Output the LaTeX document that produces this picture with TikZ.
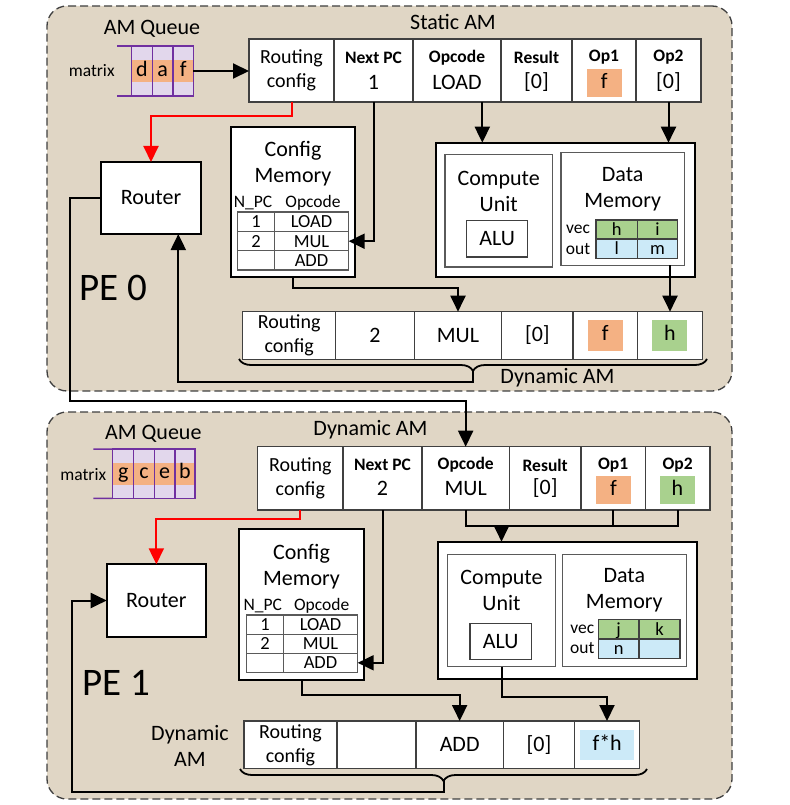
\documentclass[tikz,border=0pt]{standalone}
\usepackage{fontspec}
\setmainfont{Carlito}
\usetikzlibrary{arrows.meta,decorations.pathreplacing}
\definecolor{beige}{RGB}{224,214,197}
\definecolor{qorange}{RGB}{244,177,131}
\definecolor{qgreen}{RGB}{169,209,142}
\definecolor{qblue}{RGB}{204,234,248}
\definecolor{qlav}{RGB}{226,215,236}
\definecolor{qpurple}{RGB}{112,48,160}
\definecolor{edge}{RGB}{64,64,64}
\definecolor{gedge}{RGB}{90,90,90}
\newcommand\fntA{\fontsize{22}{26}\selectfont}
\newcommand\fntB{\fontsize{20}{24}\selectfont}
\newcommand\fntC{\fontsize{18.5}{19}\selectfont}
\newcommand\fntD{\bfseries\fontsize{17.5}{20}\selectfont}
\newcommand\fntE{\fontsize{17.5}{20}\selectfont}
\newcommand\fntP{\fontsize{39}{44}\selectfont}
\newcommand\bx[7]{\node[#1,minimum width={#4-#2},minimum height={#5-#3}] (#6) at (#2,#3) {#7};}
\begin{document}
\begin{tikzpicture}[x=1pt,y=-1pt,
  pe/.style={draw=edge,dash pattern=on 8pt off 4pt,line width=1.3pt,fill=beige,rounded corners=20pt,inner sep=0pt,outer sep=0pt,anchor=north west},
  cell/.style={draw=edge,line width=1.3pt,fill=white,inner sep=0pt,outer sep=0pt,anchor=north west,align=center,font=\fntA},
  blk/.style={draw=black,line width=1.8pt,fill=white,inner sep=0pt,outer sep=0pt,anchor=north west},
  gbox/.style={draw=gedge,line width=1.3pt,fill=white,inner sep=0pt,outer sep=0pt,anchor=north west},
  tcell/.style={draw=gedge,line width=1.2pt,fill=white,inner sep=0pt,outer sep=0pt,anchor=north west,font=\fntC,text height=12pt,text depth=0pt},
  dcell/.style={draw=edge,line width=1.2pt,inner sep=0pt,outer sep=0pt,anchor=north west,font=\fntC,text height=12pt,text depth=0pt},
  col/.style={inner sep=0pt,outer sep=0pt,anchor=north west,font=\fntA},
  qcell/.style={draw=qpurple,line width=1.5pt,inner sep=0pt,outer sep=0pt,anchor=north west,font=\fntA},
  txt/.style={inner sep=0pt,outer sep=0pt,align=center},
  arr/.style={line width=2pt,-{Triangle[length=16pt,width=15pt]}},
  ln/.style={line width=2pt},
  rarr/.style={arr,red},
  brc/.style={line width=1.8pt,decorate,decoration={brace,mirror,amplitude=12pt}},
]
\useasboundingbox (0,0) rectangle (789,805);

% ================= PE 0 =================
\bx{pe}{47}{6}{732}{391}{pe0}{}
\node[txt,font=\fntA] (aq0) at (152,29) {AM Queue};
\node[txt,font=\fntE] (mx0) at (91.7,71) {matrix};
\fill[qlav] (131.7,46) rectangle (193.3,96);
\fill[qorange] (131.7,60) rectangle (193.3,82);
\bx{qcell}{131.7}{46}{152.3}{96}{q0a}{\strut d}
\bx{qcell}{152.3}{46}{173}{96}{q0b}{\strut a}
\bx{qcell}{173}{46}{193.3}{96}{q0c}{\strut f}
\draw[qpurple,line width=1.5pt] (117,46) -- (q0a.north west) (117,96) -- (q0a.south west);

\node[txt,font=\fntA] (sam0) at (453,21.7) {Static AM};
\bx{cell,font=\fntB}{249}{39}{334}{102}{s0rc}{Routing\\config}
\bx{cell}{334}{39}{413}{102}{s0pc}{}
\bx{cell}{413}{39}{501}{102}{s0op}{}
\bx{cell}{501}{39}{572}{102}{s0res}{}
\bx{cell}{572}{39}{636}{102}{s0o1}{}
\bx{cell}{636}{39}{701}{102}{s0o2}{}
\node[txt,font=\fntD] (h0a) at (373.5,57.5) {Next PC};
\node[txt,font=\fntD] (h0b) at (457,57.5) {Opcode};
\node[txt,font=\fntD] (h0c) at (536.5,57.5) {Result};
\node[txt,font=\fntD] (h0d) at (604,57.5) {Op1};
\node[txt,font=\fntD] (h0e) at (668.5,57.5) {Op2};
\node[txt,font=\fntA] (v0a) at (373.5,82) {1};
\node[txt,font=\fntA] (v0b) at (457,82) {LOAD};
\node[txt,font=\fntA] (v0c) at (536.5,82) {[0]};
\bx{col,fill=qorange}{586.7}{69}{621.7}{96.7}{v0d}{\strut f}
\node[txt,font=\fntA] (v0e) at (668.5,82) {[0]};

% router
\bx{blk,font=\fntA}{101}{162}{201}{234}{r0}{Router}

% config memory
\bx{blk}{231}{127}{355}{277}{cm0}{}
\node[txt,font=\fntA] (cm0t) at (293,163.5) {Config\\Memory};
\node[txt,font=\fntE] (np0) at (253,203) {N\_PC};
\node[txt,font=\fntE] (oc0) at (313,203) {Opcode};
\bx{tcell}{237.7}{212}{274.3}{231.7}{t0a1}{1}
\bx{tcell}{274.3}{212}{348.7}{231.7}{t0b1}{LOAD}
\bx{tcell}{237.7}{231.7}{274.3}{250.7}{t0a2}{2}
\bx{tcell}{274.3}{231.7}{348.7}{250.7}{t0b2}{MUL}
\bx{tcell}{237.7}{250.7}{274.3}{270}{t0a3}{}
\bx{tcell}{274.3}{250.7}{348.7}{270}{t0b3}{ADD}

% compute + data
\bx{blk}{435.7}{142.7}{694.7}{277}{cd0}{}
\bx{gbox}{445}{154.3}{552.3}{267}{cu0}{}
\node[txt,font=\fntA] (cu0t) at (498.7,191.7) {Compute\\Unit};
\bx{gbox,draw=edge,font=\fntA}{466.7}{220.7}{527.7}{257}{alu0}{ALU}
\bx{gbox}{561}{152.7}{684.3}{265.3}{dm0}{}
\node[txt,font=\fntA] (dm0t) at (622.7,189.7) {Data\\Memory};
\node[txt,font=\fntE] (vec0) at (578,229.5) {vec};
\node[txt,font=\fntE] (out0) at (578,248.7) {out};
\bx{dcell,fill=qgreen}{596}{220}{637.3}{239}{dv0a}{h}
\bx{dcell,fill=qgreen}{637.3}{220}{677.7}{239}{dv0b}{i}
\bx{dcell,fill=qblue}{596}{239}{637.3}{258.3}{do0a}{l}
\bx{dcell,fill=qblue}{637.3}{239}{677.7}{258.3}{do0b}{m}

% dynamic AM of PE0
\bx{cell,font=\fntB}{242.7}{311.7}{335.7}{359.3}{d0rc}{Routing\\config}
\bx{cell}{335.7}{311.7}{414.3}{359.3}{d0pc}{2}
\bx{cell}{414.3}{311.7}{501.7}{359.3}{d0op}{MUL}
\bx{cell}{501.7}{311.7}{573}{359.3}{d0res}{[0]}
\bx{cell}{573}{311.7}{637.7}{359.3}{d0o1}{}
\bx{cell}{637.7}{311.7}{702.3}{359.3}{d0o2}{}
\bx{col,fill=qorange}{587.7}{320}{622.7}{350.7}{d0f}{\strut f}
\bx{col,fill=qgreen}{652.3}{320}{687.3}{350.7}{d0h}{\strut h}
\draw[brc] (239,359) -- (707,359);
\coordinate (br0) at (473,371);
\node[txt,font=\fntA] (dyn0) at (557.5,378) {Dynamic AM};
\node[txt,font=\fntP] (pe0l) at (113.3,288.3) {PE 0};

% connectors PE0
\draw[arr] (q0c.east) -- (q0c.east -| s0rc.west);
\draw[rarr] (s0rc.south) -- ++(0,13.7) -| (r0.north);
\draw[arr] (s0pc.south) |- (t0b2.east);
\path (s0op.south) ++(25.3,0) coordinate (op0x);
\draw[arr] (op0x) -- (op0x |- cd0.north);
\draw[arr] (s0o2.south) -- (s0o2.south |- cd0.north);
\draw[arr] (dm0.south -| d0o2.north) -- (d0o2.north);
\draw[arr] (cm0.south) -- ++(0,11.3) -| (d0op.north);
\draw[arr] (br0) -- ++(0,10.7) -| ([xshift=27.3pt]r0.south);

% ================= PE 1 =================
\bx{pe}{47}{412}{732}{799}{pe1}{}
\node[txt,font=\fntA] (aq1) at (153.3,434.3) {AM Queue};
\node[txt,font=\fntE] (mx1) at (83.3,474.3) {matrix};
\fill[qlav] (112.7,449) rectangle (195,498.3);
\fill[qorange] (112.7,463) rectangle (195,485);
\bx{qcell}{112.7}{449}{133.7}{498.3}{q1a}{\strut g}
\bx{qcell}{133.7}{449}{154.3}{498.3}{q1b}{\strut c}
\bx{qcell}{154.3}{449}{175}{498.3}{q1c}{\strut e}
\bx{qcell}{175}{449}{195}{498.3}{q1d}{\strut b}
\draw[qpurple,line width=1.5pt] (93.3,449) -- (q1a.north west) (93.3,498.3) -- (q1a.south west);

\node[txt,font=\fntA] (dam1) at (370.5,430) {Dynamic AM};
\bx{cell,font=\fntB}{257.7}{446.7}{343}{510}{s1rc}{Routing\\config}
\bx{cell}{343}{446.7}{422}{510}{s1pc}{}
\bx{cell}{422}{446.7}{509.3}{510}{s1op}{}
\bx{cell}{509.3}{446.7}{581}{510}{s1res}{}
\bx{cell}{581}{446.7}{645.3}{510}{s1o1}{}
\bx{cell}{645.3}{446.7}{710}{510}{s1o2}{}
\node[txt,font=\fntD] (h1a) at (382.5,465) {Next PC};
\node[txt,font=\fntD] (h1b) at (465.7,465) {Opcode};
\node[txt,font=\fntD] (h1c) at (545.2,465) {Result};
\node[txt,font=\fntD] (h1d) at (613.2,465) {Op1};
\node[txt,font=\fntD] (h1e) at (677.7,465) {Op2};
\node[txt,font=\fntA] (v1a) at (382.5,488.3) {2};
\node[txt,font=\fntA] (v1b) at (465.7,488.3) {MUL};
\node[txt,font=\fntA] (v1c) at (545.2,488.3) {[0]};
\bx{col,fill=qorange}{595.7}{476}{631}{504.3}{v1d}{\strut f}
\bx{col,fill=qgreen}{660}{476}{695}{504.3}{v1e}{\strut h}

\bx{blk,font=\fntA}{106.7}{564.3}{206}{636.7}{r1}{Router}

\bx{blk}{239.3}{529.3}{363.7}{680.3}{cm1}{}
\node[txt,font=\fntA] (cm1t) at (301.5,566.2) {Config\\Memory};
\node[txt,font=\fntE] (np1) at (262.7,606) {N\_PC};
\node[txt,font=\fntE] (oc1) at (321.7,606) {Opcode};
\bx{tcell}{246.7}{615}{283.3}{634.3}{t1a1}{1}
\bx{tcell}{283.3}{615}{357.7}{634.3}{t1b1}{LOAD}
\bx{tcell}{246.7}{634.3}{283.3}{653.3}{t1a2}{2}
\bx{tcell}{283.3}{634.3}{357.7}{653.3}{t1b2}{MUL}
\bx{tcell}{246.7}{653.3}{283.3}{672.3}{t1a3}{}
\bx{tcell}{283.3}{653.3}{357.7}{672.3}{t1b3}{ADD}

\bx{blk}{437.7}{541.7}{697}{679.3}{cd1}{}
\bx{gbox}{447.7}{554.3}{555.3}{666.7}{cu1}{}
\node[txt,font=\fntA] (cu1t) at (501.5,590.8) {Compute\\Unit};
\bx{gbox,draw=edge,font=\fntA}{470}{623.7}{531.3}{659.3}{alu1}{ALU}
\bx{gbox}{562.3}{554.3}{686.3}{666.7}{dm1}{}
\node[txt,font=\fntA] (dm1t) at (624.3,590.5) {Data\\Memory};
\node[txt,font=\fntE] (vec1) at (582.3,629) {vec};
\node[txt,font=\fntE] (out1) at (582.3,648) {out};
\bx{dcell,fill=qgreen}{598.3}{619.3}{639}{639}{dv1a}{j}
\bx{dcell,fill=qgreen}{639}{619.3}{680}{639}{dv1b}{k}
\bx{dcell,fill=qblue}{598.3}{639}{639}{658.3}{do1a}{n}
\bx{dcell,fill=qblue}{639}{639}{680}{658.3}{do1b}{}

\bx{cell,font=\fntB}{244}{721}{337}{768.7}{e1rc}{Routing\\config}
\bx{cell}{337}{721}{416}{768.7}{e1pc}{}
\bx{cell}{416}{721}{503.3}{768.7}{e1op}{ADD}
\bx{cell}{503.3}{721}{574.7}{768.7}{e1res}{[0]}
\bx{cell}{574.7}{721}{639.3}{768.7}{e1o1}{}
\bx{col,fill=qblue}{580.3}{730}{634}{760}{e1fh}{\strut f*h}
\draw[brc] (240,769) -- (647,769);
\coordinate (br1) at (443.5,781);
\node[txt,font=\fntA] (dyn1) at (190,746.3) {Dynamic\\AM};
\node[txt,font=\fntP] (pe1l) at (116.7,683.3) {PE 1};

% connectors PE1
\draw[rarr] (s1rc.south) -- ++(0,9.3) -| (r1.north);
\draw[arr] (s1pc.south) |- (t1b3.east);
\draw[arr] (cm1.south) -- ++(0,14.7) -| (e1op.north);
\coordinate (m1) at (501.5,526);
\draw[ln] (s1op.south) |- (m1);
\draw[ln] (s1o1.south) |- (m1);
\draw[ln] (s1o2.south) |- (m1);
\draw[arr] (m1) -- (m1 |- cd1.north);
\draw[arr] (cu1.south) -- ++(0,30) -| (e1o1.north);
\draw[arr] (br1) -- ++(0,10.7) -- ++(-371.2,0) |- (r1.west);

% PE0 router to PE1
\draw[arr] (r0.west) -- ++(-31,0) -- ++(0,203) -| (s1op.north);
\end{tikzpicture}
\end{document}
